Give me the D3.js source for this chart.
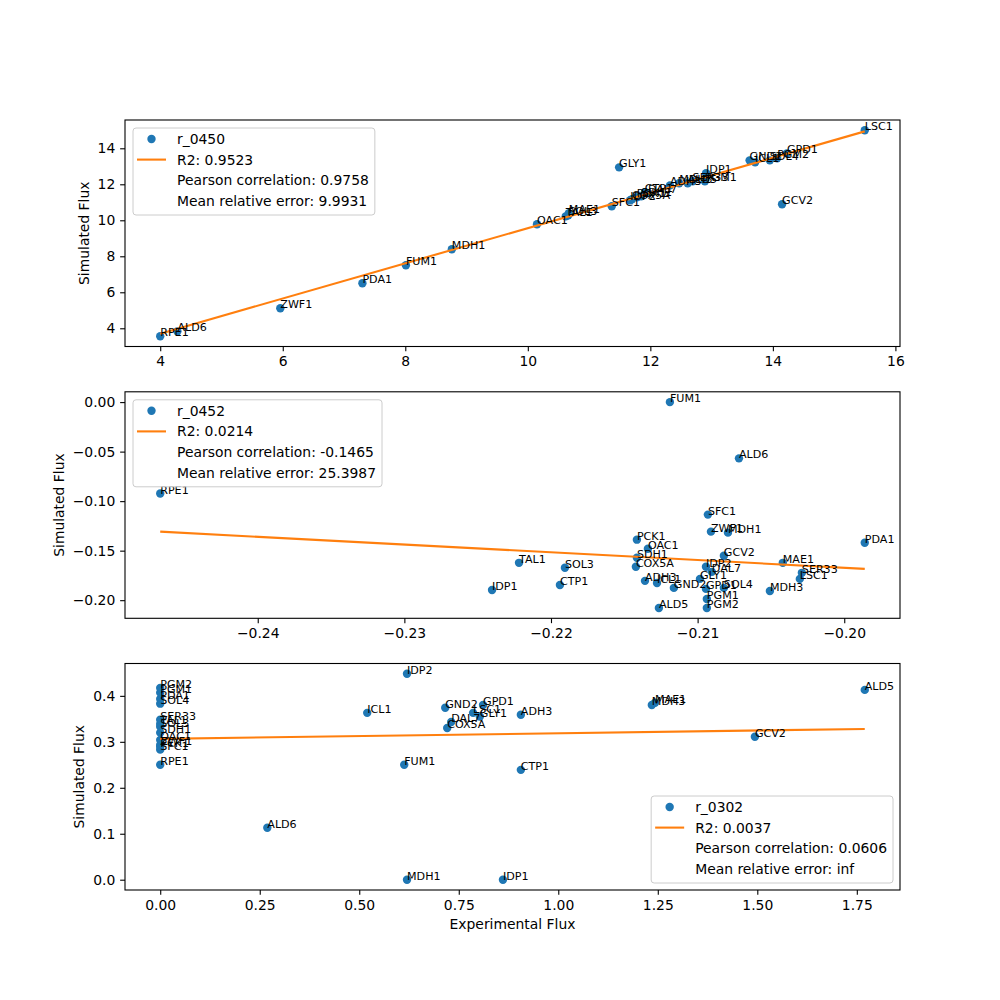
<!DOCTYPE html>
<html>
<head>
<meta charset="utf-8">
<script src="https://cdn.jsdelivr.net/npm/d3@7"></script>
<style>
  body { margin: 0; background: #fff; }
  svg { font-family: "DejaVu Sans", sans-serif; }
</style>
</head>
<body>
<svg id="chart" width="1000" height="1000"></svg>
<script>
// reaction / gene names, same order in every panel
var genes = ["RPE1", "ALD6", "ZWF1", "PDA1", "FUM1", "MDH1", "OAC1", "TAL1", "SOL3", "MAE1",
    "SFC1", "COX5A", "IDP2", "PCK1", "SDH1", "CTP1", "DAL7", "GLY1", "ADH3", "MDH3",
    "ALD5", "SER33", "PGM1", "IDP1", "GND2", "ICL1", "SOL4", "PGM2", "GPD1", "GCV2", "LSC1"];

// r_0450
var exp_0450 = [4.0, 4.28, 5.96, 7.30, 8.01, 8.76, 10.15, 10.62, 10.66, 10.67,
    11.37, 11.70, 11.67, 11.78, 11.85, 11.91, 11.96, 11.49, 12.32, 12.47,
    12.61, 12.69, 12.89, 12.91, 13.62, 13.71, 13.95, 14.07, 14.23, 14.15, 15.5];
var sim_0450 = [3.56, 3.83, 5.11, 6.5, 7.5, 8.39, 9.78, 10.22, 10.28, 10.39,
    10.78, 11.17, 11.11, 11.28, 11.33, 11.56, 11.5, 12.94, 11.94, 12.06,
    12.06, 12.17, 12.17, 12.61, 13.33, 13.22, 13.33, 13.44, 13.72, 10.89, 15.0];
var fit_0450 = [[4.0, 3.7], [15.5, 14.94]];
var legend_0450 = ["r_0450", "R2: 0.9523", "Pearson correlation: 0.9758", "Mean relative error: 9.9931"];

// r_0452
var exp_0452 = [-0.24665, -0.20718, -0.20909, -0.1986, -0.21189, -0.20793, -0.21339, -0.22218, -0.21905, -0.20419,
    -0.2093, -0.21421, -0.20943, -0.21414, -0.21414, -0.21939, -0.20903, -0.20984, -0.21359, -0.20507,
    -0.21264, -0.20289, -0.20937, -0.22402, -0.21162, -0.21277, -0.20821, -0.20937, -0.20943, -0.20821, -0.20303];
var sim_0452 = [-0.0923, -0.0568, -0.1308, -0.142, 0.0, -0.1318, -0.1481, -0.1623, -0.1673, -0.1623,
    -0.1136, -0.1663, -0.1663, -0.1389, -0.1572, -0.1846, -0.1714, -0.1785, -0.1805, -0.1907,
    -0.2079, -0.1724, -0.1988, -0.1897, -0.1876, -0.1826, -0.1876, -0.2079, -0.1886, -0.1552, -0.1785];
var fit_0452 = [[-0.24665, -0.1308], [-0.1986, -0.1684]];
var legend_0452 = ["r_0452", "R2: 0.0214", "Pearson correlation: -0.1465", "Mean relative error: 25.3987"];

// r_0302
var exp_0302 = [0, 0.269, 0, 0, 0.613, 0.620, 0, 0, 0, 1.243,
    0, 0.721, 0.620, 0, 0, 0.906, 0.731, 0.803, 0.906, 1.235,
    1.77, 0, 0, 0.861, 0.716, 0.520, 0, 0, 0.811, 1.494, 0.786];
var sim_0302 = [0.250, 0.113, 0.293, 0.393, 0.25, 0.0, 0.304, 0.339, 0.333, 0.385,
    0.283, 0.330, 0.448, 0.289, 0.320, 0.239, 0.343, 0.355, 0.359, 0.380,
    0.413, 0.348, 0.407, 0.0, 0.374, 0.363, 0.383, 0.417, 0.380, 0.311, 0.363];
var fit_0302 = [[0, 0.3065], [1.77, 0.328]];
var legend_0302 = ["r_0302", "R2: 0.0037", "Pearson correlation: 0.0606", "Mean relative error: inf"];

// tick values
var xTicks_0450 = [4, 6, 8, 10, 12, 14, 16];
var yTicks_0450 = [4, 6, 8, 10, 12, 14];
var xTicks_0452 = [-0.24, -0.23, -0.22, -0.21, -0.20];
var yTicks_0452 = [0, -0.05, -0.10, -0.15, -0.20];
var xTicks_0302 = [0, 0.25, 0.5, 0.75, 1.0, 1.25, 1.5, 1.75];
var yTicks_0302 = [0, 0.1, 0.2, 0.3, 0.4];

var blue = "#1f77b4", orange = "#ff7f0e";
var left = 125, right = 900, panelH = 226.5;
var svg = d3.select("#chart");
svg.append("rect").attr("width", 1000).attr("height", 1000).attr("fill", "#fff");

function padded(vals) {
    var ext = d3.extent(vals), span = ext[1] - ext[0];
    return [ext[0] - span * 0.05, ext[1] + span * 0.05];
}

function panel(top, xs, ys, fit, xTicks, xFmt, yTicks, yFmt, legend, legendLoc, xLabel) {
    var x = d3.scaleLinear().domain(padded(xs)).range([left, right]);
    var y = d3.scaleLinear().domain(padded(ys)).range([top + panelH, top]);
    var g = svg.append("g");

    var xAxis = g.append("g")
        .attr("transform", "translate(0," + (top + panelH) + ")")
        .call(d3.axisBottom(x).tickValues(xTicks).tickFormat(d3.format(xFmt))
            .tickSize(4.86).tickPadding(4.86));
    var yAxis = g.append("g")
        .attr("transform", "translate(" + left + ",0)")
        .call(d3.axisLeft(y).tickValues(yTicks).tickFormat(d3.format(yFmt))
            .tickSize(4.86).tickPadding(4.86));
    [xAxis, yAxis].forEach(function(a) {
        a.select(".domain").remove();
        a.selectAll("line").attr("stroke", "#000").attr("stroke-width", 1.1);
        a.selectAll("text").attr("fill", "#000").style("font-size", "13.9px")
            .style("font-family", "DejaVu Sans");
    });

    var pts = xs.map(function(v, i) { return {name: genes[i], x: v, y: ys[i]}; });

    g.selectAll("circle.pt").data(pts).enter().append("circle")
        .attr("class", "pt")
        .attr("cx", function(d) { return x(d.x); })
        .attr("cy", function(d) { return y(d.y); })
        .attr("r", 4.2)
        .attr("fill", blue);

    g.append("path")
        .datum(fit)
        .attr("d", d3.line().x(function(d) { return x(d[0]); }).y(function(d) { return y(d[1]); }))
        .attr("stroke", orange)
        .attr("stroke-width", 2.1)
        .attr("fill", "none");

    g.selectAll("text.lbl").data(pts).enter().append("text")
        .attr("class", "lbl")
        .attr("x", function(d) { return x(d.x); })
        .attr("y", function(d) { return y(d.y); })
        .style("font-size", "11.1px")
        .text(function(d) { return d.name; });

    // frame
    g.append("rect")
        .attr("x", left).attr("y", top).attr("width", right - left).attr("height", panelH)
        .attr("fill", "none").attr("stroke", "#000").attr("stroke-width", 1.1);

    // y label
    var yb = yAxis.node().getBBox();
    g.append("text")
        .attr("transform", "translate(" + (left + yb.x - 9) + "," + (top + panelH / 2) + ")rotate(-90)")
        .attr("text-anchor", "middle")
        .style("font-size", "13.9px")
        .text("Simulated Flux");

    if (xLabel) {
        var xb = xAxis.node().getBBox();
        g.append("text")
            .attr("x", (left + right) / 2)
            .attr("y", top + panelH + xb.y + xb.height + 5.6 + 10.6)
            .attr("text-anchor", "middle")
            .style("font-size", "13.9px")
            .text(xLabel);
    }

    // legend
    var lg = g.append("g");
    var frame = lg.append("rect");
    var texts = lg.selectAll("text").data(legend).enter().append("text")
        .attr("x", 44)
        .attr("y", function(d, i) { return 11 + i * 20.6; })
        .attr("dominant-baseline", "central")
        .style("font-size", "13.9px")
        .text(function(d) { return d; });
    var maxW = 0;
    texts.each(function() { maxW = Math.max(maxW, this.getComputedTextLength()); });
    var boxW = 44 + maxW + 6, boxH = 87;
    frame.attr("width", boxW).attr("height", boxH).attr("rx", 3)
        .attr("fill", "#fff").attr("fill-opacity", 0.8)
        .attr("stroke", "#cccccc").attr("stroke-width", 1);
    lg.append("circle").attr("cx", 18.5).attr("cy", 11).attr("r", 4.2).attr("fill", blue);
    lg.append("line").attr("x1", 4).attr("x2", 33).attr("y1", 11 + 20.6).attr("y2", 11 + 20.6)
        .attr("stroke", orange).attr("stroke-width", 2.1);

    var lx = legendLoc === "lower right" ? right - 7 - boxW : left + 8;
    var ly = legendLoc === "lower right" ? top + panelH - 7 - boxH : top + 8;
    lg.attr("transform", "translate(" + lx + "," + ly + ")");
}

panel(120, exp_0450, sim_0450, fit_0450, xTicks_0450, "d", yTicks_0450, "d", legend_0450, "upper left");
panel(391.8, exp_0452, sim_0452, fit_0452, xTicks_0452, ".2f", yTicks_0452, ".2f", legend_0452, "upper left");
panel(663.5, exp_0302, sim_0302, fit_0302, xTicks_0302, ".2f", yTicks_0302, ".1f", legend_0302, "lower right", "Experimental Flux");
</script>
</body>
</html>
